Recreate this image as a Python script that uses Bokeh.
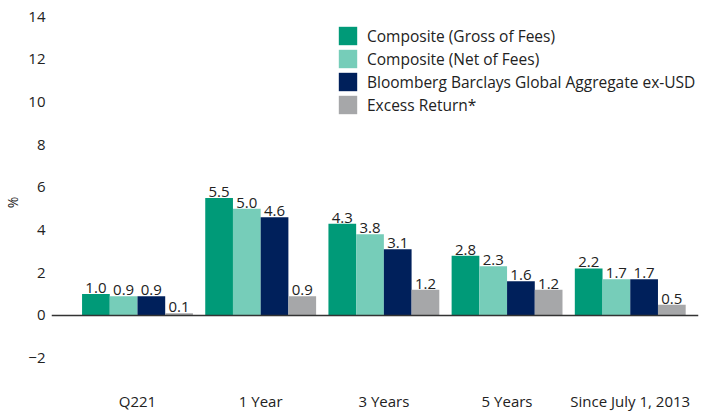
from bokeh.plotting import figure
from bokeh.models import ColumnDataSource, FixedTicker, Span, Legend, LegendItem, LabelSet
from bokeh.core.properties import value
from bokeh.embed import file_html
from bokeh.resources import INLINE

categories = ["Q221", "1 Year", "3 Years", "5 Years", "Since July 1, 2013"]
series_names = ["Composite (Gross of Fees)", "Composite (Net of Fees)",
                "Bloomberg Barclays Global Aggregate ex-USD", "Excess Return*"]
gross = [1.0, 5.5, 4.3, 2.8, 2.2]
net = [0.9, 5.0, 3.8, 2.3, 1.7]
bench = [0.9, 4.6, 3.1, 1.6, 1.7]
excess = [0.1, 0.9, 1.2, 1.2, 0.5]
y_ticks = [-2, 0, 2, 4, 6, 8, 10, 12, 14]

colors = ["#009A78", "#76CDB9", "#00205B", "#A6A7A9"]
FONT = "Open Sans"
TXT = "#222222"

p = figure(frame_width=647, frame_height=372, x_range=(-0.698, 4.554), y_range=(-3.42, 14),
           output_backend="svg", toolbar_location=None,
           min_border_left=45, min_border_right=4, min_border_top=16, min_border_bottom=22)
p.outline_line_color = None
p.grid.visible = False
p.background_fill_color = "white"

bw = 0.225
offsets = [-1.5 * bw, -0.5 * bw, 0.5 * bw, 1.5 * bw]
items = []
for vals, name, col, off in zip([gross, net, bench, excess], series_names, colors, offsets):
    xs = [i + off for i in range(len(categories))]
    src = ColumnDataSource(dict(x=xs, top=vals, lab=[f"{v:.1f}" for v in vals]))
    r = p.vbar(x="x", top="top", width=bw, bottom=0, source=src,
               fill_color=col, line_color=None)
    items.append(LegendItem(label=name, renderers=[r]))
    p.add_layout(LabelSet(x="x", y="top", text="lab", source=src, text_align="center",
                          text_baseline="bottom", y_offset=1, text_font=value(FONT),
                          text_font_size="15px", text_color=TXT))

p.add_layout(Span(location=0, dimension="width", line_color="#333333", line_width=1.5))

p.xaxis.ticker = FixedTicker(ticks=list(range(len(categories))))
p.xaxis.major_label_overrides = {i: c for i, c in enumerate(categories)}
p.yaxis.ticker = FixedTicker(ticks=y_ticks)
p.yaxis.major_label_overrides = {t: (f"\u2212{abs(t)}" if t < 0 else str(t)) for t in y_ticks}
for ax in (p.xaxis[0], p.yaxis[0]):
    ax.axis_line_color = None
    ax.major_tick_line_color = None
    ax.minor_tick_line_color = None
    ax.major_tick_out = 0
    ax.major_tick_in = 0
    ax.major_label_text_font = FONT
    ax.major_label_text_font_size = "15px"
    ax.major_label_text_color = TXT
p.xaxis.major_label_standoff = 2
p.yaxis.major_label_standoff = 6
p.yaxis.axis_label = "%"
p.yaxis.axis_label_text_font = FONT
p.yaxis.axis_label_text_font_size = "14px"
p.yaxis.axis_label_text_font_style = "normal"
p.yaxis.axis_label_text_color = TXT
p.yaxis.axis_label_standoff = 3

legend = Legend(items=items, location=(285, 272), glyph_width=23, glyph_height=23,
                spacing=0, padding=0, margin=0, label_standoff=8, label_height=23,
                label_text_font=FONT, label_text_font_size="15.5px", label_text_color=TXT,
                border_line_color=None, background_fill_alpha=0)
p.add_layout(legend)

open("out.html", "w").write(file_html(p, INLINE))
